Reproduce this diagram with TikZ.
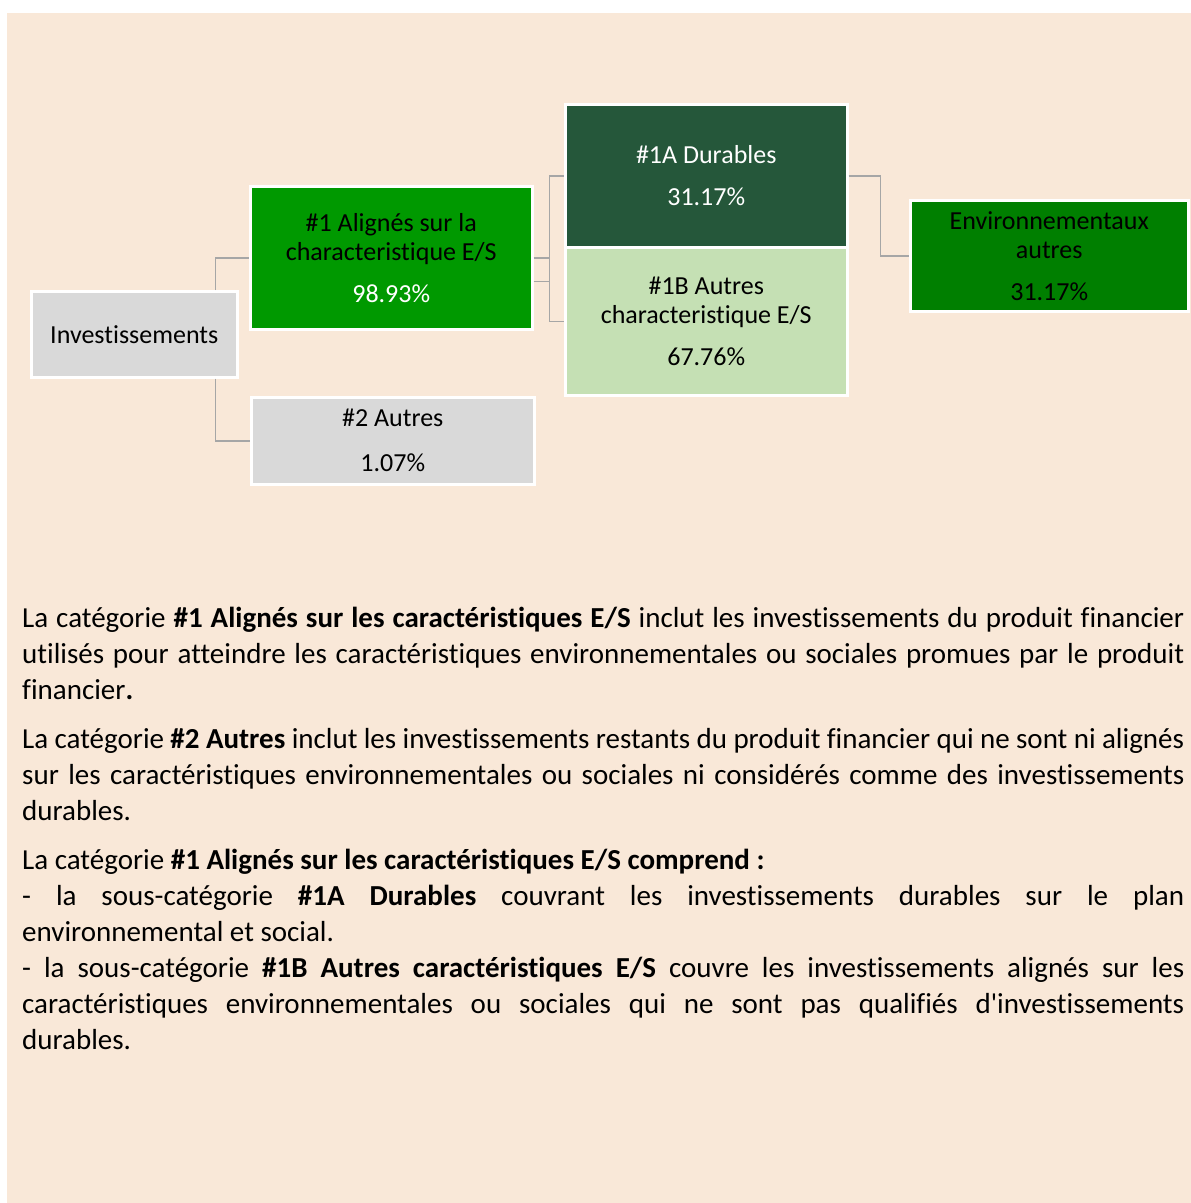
\documentclass[tikz,border=0pt]{standalone}
\usepackage{fontspec}
\defaultfontfeatures[\rmfamily,\sffamily]{}
\setmainfont{Carlito}[Ligatures=NoCommon]
\definecolor{bgbeige}{HTML}{F9E8D8}
\definecolor{boxgrey}{HTML}{D9D9D9}
\definecolor{alignedgreen}{HTML}{009900}
\definecolor{durgreen}{HTML}{25573A}
\definecolor{paleGreen}{HTML}{C5E0B4}
\definecolor{envgreen}{HTML}{007F00}
\definecolor{linkgrey}{HTML}{A6A6A6}

\begin{document}
\begin{tikzpicture}[x=1pt,y=-1pt]
   \tikzstyle{main}=[rectangle, draw=white, line width=2.5pt, inner sep=0pt, anchor=north west, align=center, font=\fontsize{26}{29}\selectfont]
   \tikzstyle{link}=[draw=linkgrey, line width=1.5pt]
   \useasboundingbox (0,0) rectangle (1191,1203);
   \fill[bgbeige] (7,13) rectangle (1191,1203);
   % tree of categories
   \node[main, fill=boxgrey, minimum width=206pt, minimum height=86pt] (invest) at (30,290) {Investissements};
   \node[main, fill=alignedgreen, minimum width=282pt, minimum height=143pt] (aligned) at (249,185)
      {\#1 Alignés sur la\\characteristique E/S\\[13pt]\textcolor{white}{98.93\%}};
   \node[main, fill=boxgrey, minimum width=283pt, minimum height=87pt] (others) at (250,396)
      {\#2 Autres\\[16pt]1.07\%};
   \node[main, fill=durgreen, text=white, minimum width=282pt, minimum height=143pt] (durables) at (564,103)
      {\#1A Durables\\[13pt]31.17\%};
   \node[main, fill=paleGreen, minimum width=282pt, minimum height=148pt] (otherES) at (564,246)
      {\#1B Autres\\characteristique E/S\\[13pt]67.76\%};
   \node[main, fill=envgreen, minimum width=278pt, minimum height=111pt] (environ) at (909,199)
      {Environnementaux\\autres\\[13pt]31.17\%};
   \draw[link] ([xshift=-23pt]invest.north east) |- (aligned.west);
   \draw[link] ([xshift=-23pt]invest.south east) |- (others.west);
   \draw[link] ([yshift=-23.5pt]aligned.east) -- ++(16,0) |- (durables.west);
   \draw[link] (aligned.east) -- ++(16,0) |- (otherES.west);
   \draw[link] (durables.east) -- ++(32,0) |- (environ.west);
   % explanations
   \node[anchor=north west, inner sep=0pt, text width=1162pt, align=justify, font=\fontsize{29}{36}\selectfont] (legend) at (22,607)
   {\parindent=0pt\tolerance=10000
    La catégorie \textbf{\#1 Alignés sur les caractéristiques E/S} inclut les investissements du produit financier\linebreak
    utilisés pour atteindre les caractéristiques environnementales ou sociales promues par le produit\linebreak
    financier\textbf{.}\par\vspace{13pt}
    La catégorie \textbf{\#2 Autres} inclut les investissements restants du produit financier qui ne sont ni alignés\linebreak
    sur les caractéristiques environnementales ou sociales ni considérés comme des investissements\linebreak
    durables.\par\vspace{13pt}
    La catégorie \textbf{\#1 Alignés sur les caractéristiques E/S comprend :}\newline
    - la sous-catégorie \textbf{\#1A Durables} couvrant les investissements durables sur le plan\linebreak
    environnemental et social.\newline
    - la sous-catégorie \textbf{\#1B Autres caractéristiques E/S} couvre les investissements alignés sur les\linebreak
    caractéristiques environnementales ou sociales qui ne sont pas qualifiés d'investissements\linebreak
    durables.};
\end{tikzpicture}
\end{document}
